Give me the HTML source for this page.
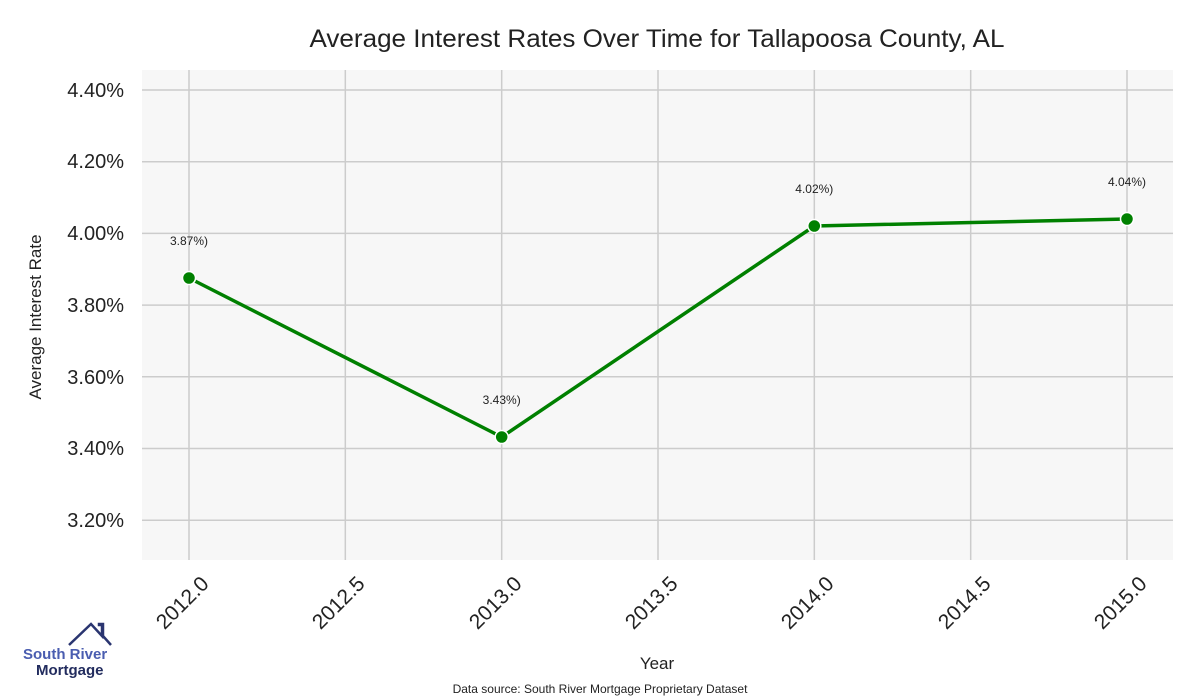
<!DOCTYPE html>
<html><head><style>body{margin:0;background:#fff}svg{display:block}</style></head><body>
<svg width="1200" height="700" xmlns="http://www.w3.org/2000/svg" font-family="Liberation Sans, sans-serif">
<rect width="1200" height="700" fill="#fff"/>
<rect x="142" y="70" width="1031" height="490" fill="#f7f7f7"/>
<g stroke="#cccccc" stroke-width="1.5">
<line x1="142" x2="1173" y1="90" y2="90"/><line x1="142" x2="1173" y1="161.7" y2="161.7"/><line x1="142" x2="1173" y1="233.4" y2="233.4"/><line x1="142" x2="1173" y1="305.1" y2="305.1"/><line x1="142" x2="1173" y1="376.8" y2="376.8"/><line x1="142" x2="1173" y1="448.5" y2="448.5"/><line x1="142" x2="1173" y1="520.2" y2="520.2"/>
<line y1="70" y2="560" x1="189" x2="189"/><line y1="70" y2="560" x1="345.3" x2="345.3"/><line y1="70" y2="560" x1="501.7" x2="501.7"/><line y1="70" y2="560" x1="658" x2="658"/><line y1="70" y2="560" x1="814.3" x2="814.3"/><line y1="70" y2="560" x1="970.7" x2="970.7"/><line y1="70" y2="560" x1="1127" x2="1127"/>
</g>
<g font-size="20" fill="#222" text-anchor="end">
<text x="124" y="97">4.40%</text><text x="124" y="168">4.20%</text><text x="124" y="240">4.00%</text><text x="124" y="312">3.80%</text><text x="124" y="384">3.60%</text><text x="124" y="455">3.40%</text><text x="124" y="527">3.20%</text>
</g>
<g font-size="21" fill="#222" text-anchor="end">
<text transform="translate(210,585) rotate(-45)">2012.0</text>
<text transform="translate(366,585) rotate(-45)">2012.5</text>
<text transform="translate(523,585) rotate(-45)">2013.0</text>
<text transform="translate(679,585) rotate(-45)">2013.5</text>
<text transform="translate(835,585) rotate(-45)">2014.0</text>
<text transform="translate(992,585) rotate(-45)">2014.5</text>
<text transform="translate(1148,585) rotate(-45)">2015.0</text>
</g>
<polyline points="189,278 501.7,437 814.3,226 1127,219" fill="none" stroke="#008000" stroke-width="3.5"/>
<g fill="#008000" stroke="#fff" stroke-width="1.5">
<circle cx="189" cy="278" r="6.5"/><circle cx="501.7" cy="437" r="6.5"/><circle cx="814.3" cy="226" r="6.5"/><circle cx="1127" cy="219" r="6.5"/>
</g>
<g font-size="12" fill="#222" text-anchor="middle">
<text x="189" y="245">3.87%)</text><text x="501.7" y="404">3.43%)</text><text x="814.3" y="193">4.02%)</text><text x="1127" y="186">4.04%)</text>
</g>
<text x="657" y="47" font-size="25" fill="#222" text-anchor="middle" textLength="695" lengthAdjust="spacingAndGlyphs">Average Interest Rates Over Time for Tallapoosa County, AL</text>
<text x="657" y="669" font-size="17" fill="#222" text-anchor="middle">Year</text>
<text transform="translate(41,317) rotate(-90)" font-size="17" fill="#222" text-anchor="middle">Average Interest Rate</text>
<text x="600" y="693" font-size="12" fill="#222" text-anchor="middle">Data source: South River Mortgage Proprietary Dataset</text>
<polyline points="69,645 91,624 102,636 102,625 99,625 99,624 103,624 103,636 111,645" fill="none" stroke="#2a3570" stroke-width="2.5"/>
<text x="23" y="659" font-size="15" font-weight="bold" fill="#4a5db0">South River</text>
<text x="36" y="675" font-size="15" font-weight="bold" fill="#222c5e">Mortgage</text>
</svg>
</body></html>
